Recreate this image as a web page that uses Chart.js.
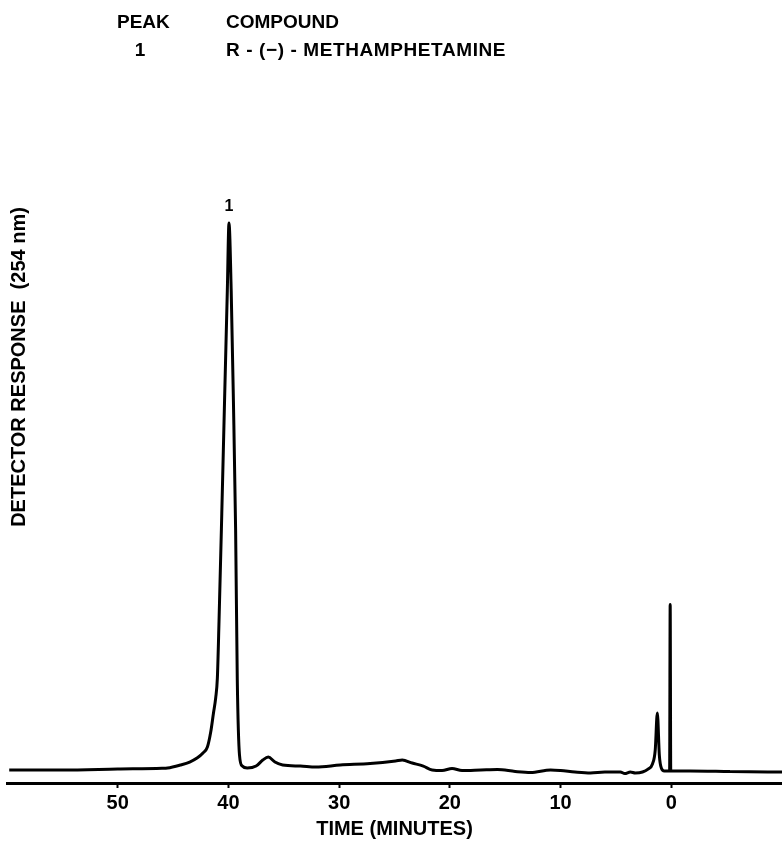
<!DOCTYPE html>
<html>
<head>
<meta charset="utf-8">
<title>R-(−)-Methamphetamine chromatogram</title>
<script src="https://cdn.jsdelivr.net/npm/chart.js@4"></script>
<style>
  html, body { margin: 0; padding: 0; background: #fff; }
  #wrap { position: relative; width: 782px; height: 846px; }
</style>
</head>
<body>
<div id="wrap"><canvas id="chart" width="782" height="846"></canvas></div>
<script>
// Retention time (minutes), listed from the left edge of the trace to the right
const timeMinutes = [
  59.8, 55.0, 50.0, 46.0, 45.5, 44.35, 43.5, 42.8, 42.3, 41.9, 41.6, 41.35, 41.15, 41.0,
  40.85, 40.6, 40.35, 40.1,
  39.95, 39.75, 39.55, 39.35, 39.2, 39.0, 38.75, 38.3, 37.5, 36.9, 36.4, 35.8, 35.1,
  33.5, 32.1, 29.9, 27.2, 24.9, 24.3, 23.4, 22.4, 21.6, 20.7, 19.8, 18.9, 17.2, 15.7,
  14.1, 12.7, 10.9, 10.0, 8.7, 7.3, 6.0, 4.6, 4.2, 3.7, 3.25, 2.6, 2.1, 1.7, 1.45,
  1.26, 1.08, 0.9, 0.63, 0.15, 0.1, 0.05, -1.7, -5.3, -10.0
];
// Detector response at 254 nm (relative units)
const detectorResponse = [
  2.17, 2.17, 2.33, 2.45, 2.5, 3.0, 3.5, 4.2, 5.0, 6.0, 8.5, 11.7, 14.2, 17.5,
  27.0, 45.0, 63.8, 82.2,
  93.5, 82.2, 63.8, 42.2, 17.2, 4.67, 2.83, 2.5, 2.83, 3.83, 4.33, 3.5, 3.0,
  2.83, 2.67, 3.0, 3.25, 3.67, 3.83, 3.33, 2.83, 2.17, 2.08, 2.42, 2.08, 2.17, 2.25,
  1.92, 1.75, 2.17, 2.08, 1.83, 1.67, 1.83, 1.83, 1.58, 1.83, 1.67, 1.83, 2.33, 3.17, 5.5,
  11.7, 4.67, 2.5, 2.0, 2.0, 29.8, 2.0, 2.0, 1.92, 1.83
];
// Axis ticks that carry a label
const tickLabels = [50, 40, 30, 20, 10, 0];
// Peak table
const peakNumbers = ['1'];
const compoundNames = ['R - (\u2212) - METHAMPHETAMINE'];
const peakTimes = [40];

const FONT = '"Liberation Sans", Arial, Helvetica, sans-serif';

const points = timeMinutes.map((t, i) => ({ x: t, y: detectorResponse[i] }));

// Index of the highest point within one minute of a given time
function peakIndex(t) {
  let best = -1;
  timeMinutes.forEach((tm, j) => {
    if (Math.abs(tm - t) < 1 && (best < 0 || detectorResponse[j] > detectorResponse[best])) best = j;
  });
  return best;
}

// Draws the peak table, the peak number above its peak and the vertical axis title
const annotations = {
  id: 'annotations',
  afterDraw(chart) {
    const ctx = chart.ctx;
    const xs = chart.scales.x, ys = chart.scales.y;
    ctx.save();
    ctx.fillStyle = '#000';
    ctx.textBaseline = 'alphabetic';

    // peak table
    ctx.font = 'bold 19px ' + FONT;
    ctx.textAlign = 'left';
    ctx.fillText('PEAK', 117, 28);
    ctx.fillText('COMPOUND', 226, 28);
    peakNumbers.forEach((n, i) => {
      ctx.textAlign = 'center';
      ctx.fillText(n, 140, 56 + i * 28);
      ctx.textAlign = 'left';
      ctx.letterSpacing = '0.6px';
      ctx.fillText(compoundNames[i], 226, 56 + i * 28);
      ctx.letterSpacing = '0px';
    });

    // peak numbers above the peaks
    ctx.font = 'bold 16px ' + FONT;
    ctx.textAlign = 'center';
    ctx.textBaseline = 'bottom';
    peakTimes.forEach((t, i) => {
      const k = peakIndex(t);
      const px = xs.getPixelForValue(timeMinutes[k]);
      const py = ys.getPixelForValue(detectorResponse[k]);
      ctx.fillText(peakNumbers[i], px, py - 8);
    });

    // vertical axis title
    ctx.font = 'bold 20px ' + FONT;
    ctx.translate(19, 367);
    ctx.rotate(-Math.PI / 2);
    ctx.textAlign = 'center';
    ctx.textBaseline = 'middle';
    ctx.fillText('DETECTOR RESPONSE  (254 nm)', 0, 0);
    ctx.restore();
  }
};

new Chart(document.getElementById('chart'), {
  type: 'line',
  data: {
    datasets: [{
      data: points,
      borderColor: '#000',
      borderWidth: 3,
      borderJoinStyle: 'bevel',
      borderCapStyle: 'butt',
      pointRadius: 0,
      fill: false,
      cubicInterpolationMode: 'monotone'
    }]
  },
  options: {
    responsive: false,
    animation: false,
    events: [],
    layout: { padding: { top: 184, left: 7, right: 0, bottom: 0 } },
    plugins: {
      legend: { display: false },
      tooltip: { enabled: false }
    },
    scales: {
      x: {
        type: 'linear',
        reverse: true,
        min: -10,
        max: 60,
        afterFit(scale) {
          scale.height = 63;
          scale.paddingLeft = 0;
          scale.paddingRight = 0;
        },
        border: { display: true, color: '#000', width: 3 },
        grid: {
          drawOnChartArea: false,
          drawTicks: true,
          tickLength: 5,
          tickWidth: 2,
          tickColor: (c) => tickLabels.includes(c.tick && c.tick.value) ? '#000' : 'rgba(0,0,0,0)'
        },
        ticks: {
          stepSize: 10,
          color: '#000',
          padding: 3,
          maxRotation: 0,
          font: { family: FONT, size: 20, weight: 'bold' },
          callback: (v) => tickLabels.includes(v) ? String(v) : ''
        },
        title: {
          display: true,
          text: 'TIME (MINUTES)',
          color: '#000',
          padding: { top: 2, bottom: 5 },
          font: { family: FONT, size: 20, weight: 'bold' }
        }
      },
      y: {
        display: false,
        min: 0,
        max: 100
      }
    }
  },
  plugins: [annotations]
});
</script>
</body>
</html>
